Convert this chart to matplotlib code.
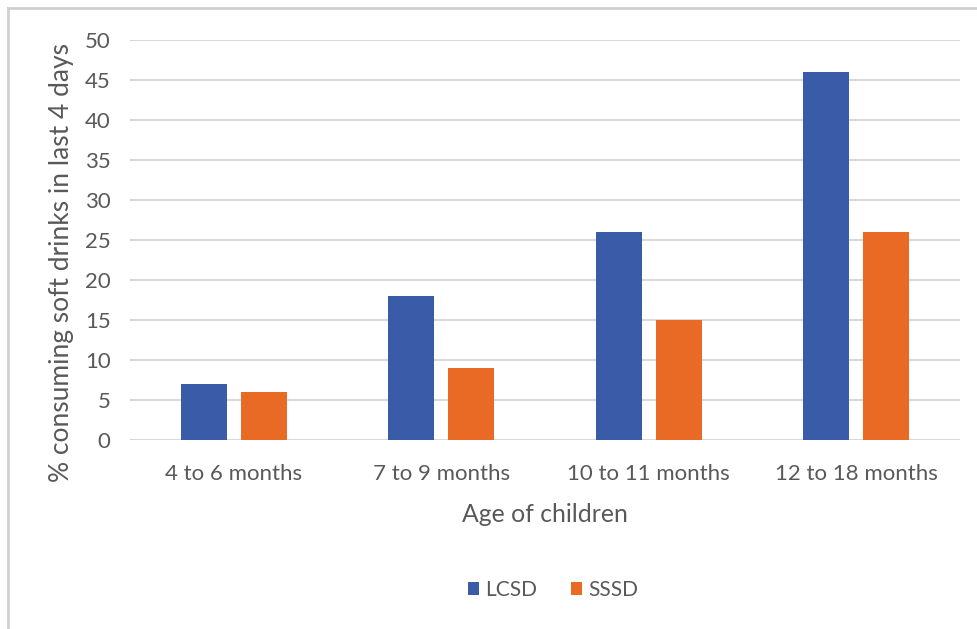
import matplotlib
matplotlib.use("Agg")
import matplotlib.pyplot as plt
import numpy as np
from matplotlib.lines import Line2D

categories = ["4 to 6 months", "7 to 9 months", "10 to 11 months", "12 to 18 months"]
lcsd = [7, 18, 26, 46]
sssd = [6, 9, 15, 26]
yticks = [0, 5, 10, 15, 20, 25, 30, 35, 40, 45, 50]

plt.rcParams['font.family'] = ['Lato', 'DejaVu Sans']
grey = '#595959'

fig = plt.figure(figsize=(9.77, 6.29), dpi=100)
ax = fig.add_axes([130/977, 1-440/629, 830/977, 400/629])

x = np.arange(len(categories))
w = 0.222
off = 0.145
ax.bar(x - off, lcsd, w, color='#3A5BA8', label='LCSD', zorder=3)
ax.bar(x + off, sssd, w, color='#E86A25', label='SSSD', zorder=3)

ax.set_xlim(-0.5, len(categories) - 0.5)
ax.set_ylim(0, 50)
ax.set_yticks(yticks)
ax.set_xticks(x)
ax.set_xticklabels(categories)
ax.tick_params(axis='both', length=0, labelsize=16, colors=grey)
ax.tick_params(axis='y', pad=14)
ax.tick_params(axis='x', pad=17)
ax.grid(axis='y', color='#D9D9D9', lw=1.5, zorder=0)
for s in ax.spines.values():
    s.set_visible(False)

ax.set_xlabel('Age of children', fontsize=17.8, color=grey, labelpad=14)
ax.set_ylabel('% consuming soft drinks in last 4 days', fontsize=19, color=grey)
ax.yaxis.set_label_coords(-0.068, 0.445)

leg = fig.legend(loc='center', bbox_to_anchor=(553/977, 1-590/629), ncol=2, frameon=False,
                 fontsize=15, handlelength=0.55, handleheight=0.55, columnspacing=1.6,
                 handletextpad=0.3)
for t in leg.get_texts():
    t.set_color(grey)

fig.add_artist(Line2D([8/977, 8/977], [0, 1-8/629], color='#D0D0D0', lw=2, transform=fig.transFigure))
fig.add_artist(Line2D([8/977, 1], [1-8/629, 1-8/629], color='#D0D0D0', lw=2, transform=fig.transFigure))

fig.savefig('out.png', dpi=100, facecolor='white')
